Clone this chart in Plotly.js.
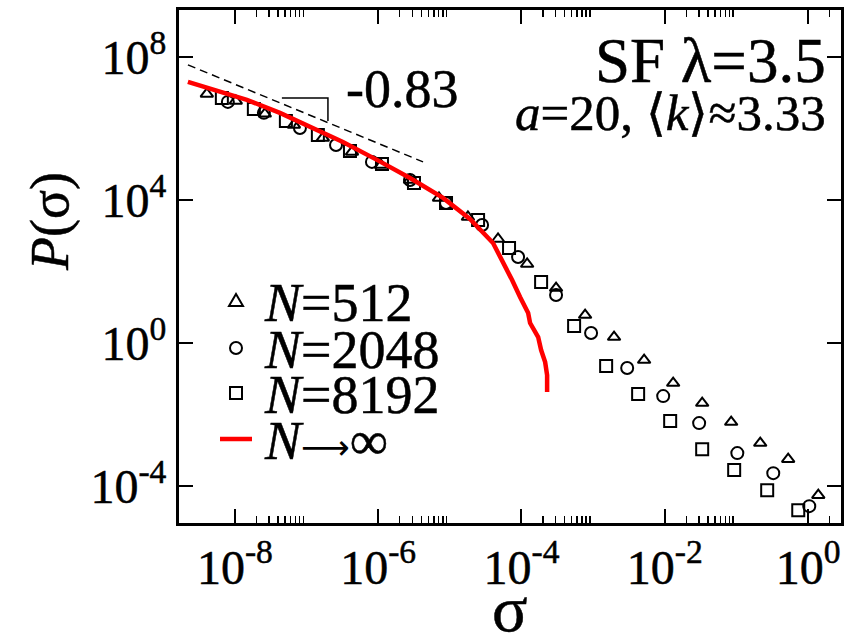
<!DOCTYPE html>
<html><head><meta charset="utf-8">
<script src="https://cdn.plot.ly/plotly-3.0.1.min.js"></script>
<style>html,body{margin:0;padding:0;background:#fff;} #chart{width:852px;height:634px;} #chart svg text{stroke:#000;stroke-width:0.5px;}</style>
</head><body><div id="chart"></div>
<script>
// N = 512 (triangles)
const n512Sigma = [4.06e-9, 1.03e-8, 2.62e-8, 6.67e-8, 1.69e-7, 4.31e-7, 1.09e-6, 2.78e-6, 7.06e-6, 1.79e-5, 4.71e-5, 1.20e-4, 3.04e-4, 7.73e-4, 1.96e-3, 5.15e-3, 1.31e-2, 3.33e-2, 8.45e-2, 0.215, 0.528, 1.39];
const n512P = [9.23e6, 5.87e6, 2.55e6, 1.25e6, 5.42e5, 2.20e5, 9.53e4, 3.62e4, 1.14e4, 3.34e3, 811, 162, 34.5, 6.07, 1.47, 0.334, 0.0760, 0.0210, 6.17e-3, 1.60e-3, 5.69e-4, 5.60e-5];
// N = 2048 (circles)
const n2048Sigma = [7.98e-9, 2.54e-8, 8.09e-8, 2.58e-7, 8.19e-7, 2.78e-6, 8.85e-6, 2.82e-5, 8.97e-5, 3.04e-4, 9.37e-4, 2.99e-3, 9.51e-3, 3.02e-2, 0.103, 0.327, 1.04];
const n2048P = [5.51e6, 2.72e6, 1.03e6, 3.45e5, 1.16e5, 3.62e4, 8.24e3, 2.00e3, 255, 22.0, 1.91, 0.200, 0.0329, 5.78e-3, 8.38e-4, 2.31e-4, 2.76e-5];
// N = 8192 (squares)
const n8192Sigma = [6.58e-9, 1.84e-8, 5.15e-8, 1.44e-7, 4.04e-7, 1.13e-6, 3.16e-6, 8.85e-6, 2.48e-5, 6.71e-5, 1.88e-4, 5.43e-4, 1.52e-3, 4.25e-3, 1.19e-2, 3.33e-2, 9.31e-2, 0.269, 0.730];
const n8192P = [7.13e6, 3.51e6, 1.62e6, 6.58e5, 2.35e5, 1.02e5, 2.99e4, 8.24e3, 2.76e3, 454, 50.8, 2.99, 0.228, 0.0374, 6.58e-3, 1.08e-3, 2.81e-4, 7.73e-5, 2.13e-5];
// N -> infinity (red curve)
const infSigma = [2.21e-9, 4.93e-9, 1.47e-8, 4.25e-8, 1.11e-7, 3.22e-7, 9.61e-7, 2.78e-6, 8.04e-6, 1.91e-5, 4.01e-5, 5.90e-5, 7.40e-5, 9.55e-5, 1.24e-4, 1.32e-4, 1.71e-4, 1.88e-4, 2.14e-4, 2.28e-4, 2.28e-4];
const infP = [2.00e7, 1.19e7, 6.27e6, 2.72e6, 1.10e6, 4.19e5, 1.32e5, 4.12e4, 1.14e4, 2.94e3, 627, 152, 57.8, 19.4, 6.90, 3.62, 1.47, 0.637, 0.294, 0.127, 0.0426];
// power-law guide (slope -0.83) and slope bracket
const guideSigma = [2.21e-9, 4.23e-6];
const guideP = [5.97e7, 1.16e5];
const bracketSigma = [4.53e-8, 1.99e-7, 1.99e-7];
const bracketP = [7.13e6, 7.13e6, 1.62e6];
// ticks
const xTickVals = [1e-8, 1e-6, 1e-4, 1e-2, 1];
const xTickText = ['10<sup>-8</sup>', '10<sup>-6</sup>', '10<sup>-4</sup>', '10<sup>-2</sup>', '10<sup>0</sup>'];
const yTickVals = [1e8, 1e4, 1, 1e-4];
const yTickText = ['10<sup>8</sup>', '10<sup>4</sup>', '10<sup>0</sup>', '10<sup>-4</sup>'];
const legendLabels = ['<i>N</i>=512', '<i>N</i>=2048', '<i>N</i>=8192', '<i>N</i><span style="font-family:DejaVu Sans;font-size:34px;stroke-width:0">\u27f6</span>\u221e'];

const minorX = [];
xTickVals.forEach(m => { for (let k = 2; k <= 9; k++) minorX.push(k * m); });

const FONT = 'Liberation Serif';
const mk = (sym, size) => ({symbol: sym, size: size, color: 'black', line: {color: 'black', width: 2}});

const traces = [
  {x: guideSigma, y: guideP, mode: 'lines', line: {color: 'black', width: 1.5, dash: '8px,5px'}, hoverinfo: 'skip'},
  {x: bracketSigma, y: bracketP, mode: 'lines', line: {color: 'black', width: 1.5}, hoverinfo: 'skip'},
  {x: n8192Sigma, y: n8192P, mode: 'markers', marker: mk('square-open', 12)},
  {x: n2048Sigma, y: n2048P, mode: 'markers', marker: mk('circle-open', 12)},
  {x: n512Sigma, y: n512P, mode: 'markers', marker: mk('triangle-up-open', 11)},
  {x: infSigma, y: infP, mode: 'lines', line: {color: '#ff0000', width: 4.5}}
];

const W = 852, H = 634, L = 179, R = 11, T = 10, B = 111;
const pw = W - L - R, ph = H - T - B;
const px = x => (x - L) / pw;
const py = y => (H - B - y) / ph;

const legendRowsY = [301, 348, 393, 439];
const symX = 236;
const annotations = [
  {text: 'SF \u03bb=3.5', x: px(828), y: py(61), xref: 'paper', yref: 'paper', xanchor: 'right', yanchor: 'middle', showarrow: false, font: {family: FONT, size: 63, color: 'black'}},
  {text: '<i>a</i>=20, \u27e8<i>k</i>\u27e9\u22483.33', x: px(828), y: py(113), xref: 'paper', yref: 'paper', xanchor: 'right', yanchor: 'middle', showarrow: false, font: {family: FONT, size: 51, color: 'black'}},
  {text: '-0.83', x: px(344), y: py(89), xref: 'paper', yref: 'paper', xanchor: 'left', yanchor: 'middle', showarrow: false, font: {family: FONT, size: 54, color: 'black'}},
  {text: '<i>P</i>(\u03c3)', x: px(50), y: py(222), xref: 'paper', yref: 'paper', xanchor: 'center', yanchor: 'middle', textangle: -90, showarrow: false, font: {family: FONT, size: 54, color: 'black'}},
  {text: '\u03c3', x: px(510), y: py(608), xref: 'paper', yref: 'paper', xanchor: 'center', yanchor: 'middle', showarrow: false, font: {family: FONT, size: 66, color: 'black'}}
];
legendLabels.forEach((t, i) => {
  annotations.push({text: t, x: px(262), y: py(legendRowsY[i] + 2), xref: 'paper', yref: 'paper', xanchor: 'left', yanchor: 'middle', showarrow: false, font: {family: FONT, size: 54, color: 'black'}});
});

const pix = {xref: 'paper', yref: 'paper', xsizemode: 'pixel', ysizemode: 'pixel'};
const shapes = [
  Object.assign({type: 'path', xanchor: px(symX), yanchor: py(legendRowsY[0]), path: 'M -7 -5 L 7 -5 L 0 7 Z', line: {color: 'black', width: 2}}, pix),
  Object.assign({type: 'circle', xanchor: px(symX), yanchor: py(legendRowsY[1]), x0: -6, x1: 6, y0: -6, y1: 6, line: {color: 'black', width: 2}}, pix),
  Object.assign({type: 'rect', xanchor: px(symX), yanchor: py(legendRowsY[2]), x0: -6, x1: 6, y0: -6, y1: 6, line: {color: 'black', width: 2}}, pix),
  Object.assign({type: 'line', xanchor: px(symX), yanchor: py(legendRowsY[3]), x0: -16, x1: 16, y0: 0, y1: 0, line: {color: '#ff0000', width: 4.5}}, pix)
];

const axisCommon = {
  type: 'log', showline: true, linewidth: 3, linecolor: 'black', mirror: 'ticks',
  ticks: 'inside', tickwidth: 2, tickcolor: 'black', showgrid: false, zeroline: false,
  tickmode: 'array', tickfont: {family: FONT, size: 48, color: 'black'}
};

const layout = {
  width: W, height: H, margin: {l: L, r: R, t: T, b: B},
  font: {family: FONT, color: 'black'},
  paper_bgcolor: 'white', plot_bgcolor: 'white', showlegend: false,
  xaxis: Object.assign({}, axisCommon, {
    range: [-8.78, 0.46], tickvals: xTickVals, ticktext: xTickText, ticklen: 14,
    minor: {tickmode: 'array', tickvals: minorX, ticks: 'inside', ticklen: 7, tickwidth: 1.5, tickcolor: 'black', showgrid: false}
  }),
  yaxis: Object.assign({}, axisCommon, {
    range: [-5.03, 9.31], tickvals: yTickVals, ticktext: yTickText, ticklen: 14
  }),
  annotations: annotations, shapes: shapes
};

Plotly.newPlot('chart', traces, layout, {displayModeBar: false, staticPlot: true});
</script>
</body></html>
